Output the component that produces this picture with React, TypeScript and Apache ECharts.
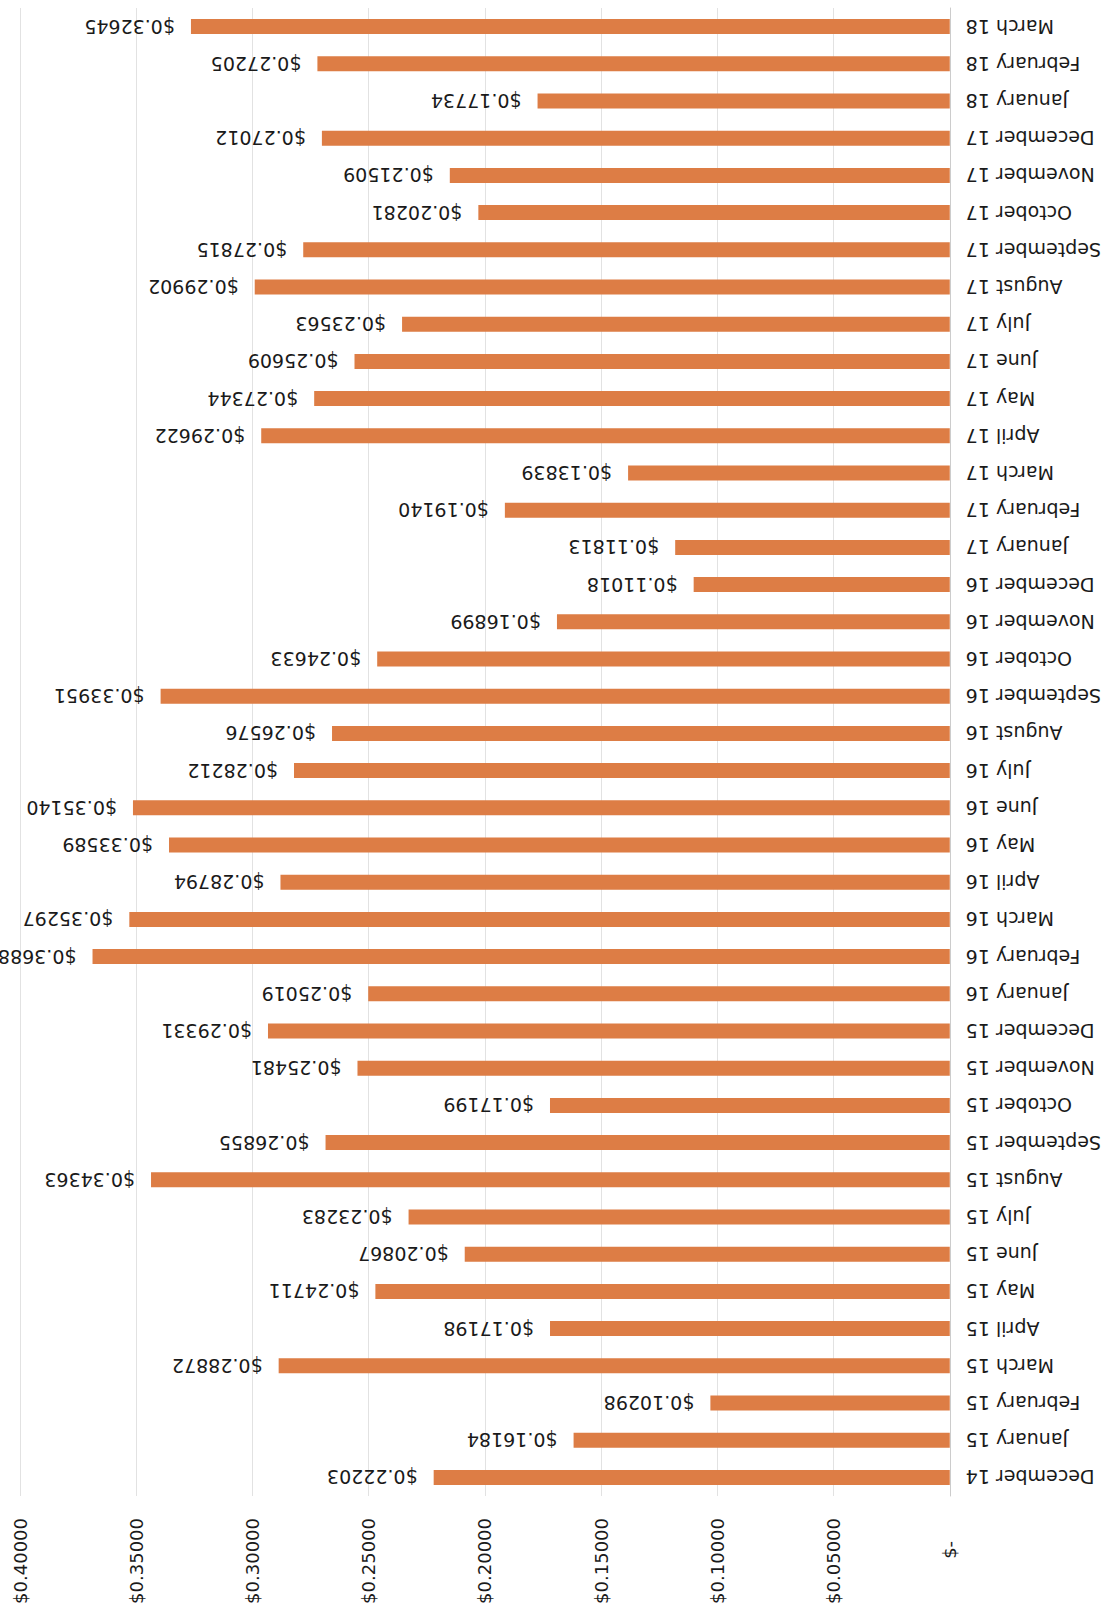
import React, { useEffect, useRef } from "react";
import * as echarts from "echarts";

// Monthly cost per unit, December 2014 through March 2018
const months: string[] = [
  "December 14",
  "January 15", "February 15", "March 15", "April 15", "May 15", "June 15",
  "July 15", "August 15", "September 15", "October 15", "November 15", "December 15",
  "January 16", "February 16", "March 16", "April 16", "May 16", "June 16",
  "July 16", "August 16", "September 16", "October 16", "November 16", "December 16",
  "January 17", "February 17", "March 17", "April 17", "May 17", "June 17",
  "July 17", "August 17", "September 17", "October 17", "November 17", "December 17",
  "January 18", "February 18", "March 18",
];

const costs: number[] = [
  0.22203,
  0.16184, 0.10298, 0.28872, 0.17198, 0.24711, 0.20867,
  0.23283, 0.34363, 0.26855, 0.17199, 0.25481, 0.29331,
  0.25019, 0.3688, 0.35297, 0.28794, 0.33589, 0.3514,
  0.28212, 0.26576, 0.33951, 0.24633, 0.16899, 0.11018,
  0.11813, 0.1914, 0.13839, 0.29622, 0.27344, 0.25609,
  0.23563, 0.29902, 0.27815, 0.20281, 0.21509, 0.27012,
  0.17734, 0.27205, 0.32645,
];

const axisMin = 0;
const axisMax = 0.4;
const axisStep = 0.05;

const FONT = "'DejaVu Sans', sans-serif";
const TEXT = "#1a1a1a";
const BAR = "#DD7D45";

const money = (v: number) => "$" + v.toFixed(5);

export default function App() {
  const ref = useRef<HTMLDivElement>(null);

  useEffect(() => {
    if (!ref.current) return;
    const chart = echarts.init(ref.current, undefined, { renderer: "svg" });
    chart.setOption({
      animation: false,
      backgroundColor: "#ffffff",
      grid: { left: 20, right: 154, top: 8, bottom: 118, containLabel: false },
      xAxis: {
        type: "value",
        min: axisMin,
        max: axisMax,
        interval: axisStep,
        inverse: true,
        position: "bottom",
        axisLine: { show: false },
        axisTick: { show: false },
        splitLine: { show: true, lineStyle: { color: "#e2e2e2", width: 1 } },
        axisLabel: {
          rotate: 90,
          margin: 22,
          color: TEXT,
          fontFamily: FONT,
          fontSize: 18,
          formatter: (v: number) => (v === 0 ? "$-\u2007\u2007" : money(v)),
        },
      },
      yAxis: {
        type: "category",
        data: months,
        position: "right",
        axisLine: { show: true, lineStyle: { color: "#cccccc", width: 1 } },
        axisTick: { show: false },
        axisLabel: {
          rotate: 180,
          margin: 16,
          color: TEXT,
          fontFamily: FONT,
          fontSize: 19,
          interval: 0,
        },
      },
      series: [
        {
          type: "bar",
          data: costs,
          barWidth: 15,
          itemStyle: { color: BAR },
          label: {
            show: true,
            position: "left",
            distance: 16,
            rotate: 180,
            align: "left",
            verticalAlign: "middle",
            color: TEXT,
            fontFamily: FONT,
            fontSize: 19,
            formatter: (p: any) => money(p.value),
          },
        },
      ],
    });
    return () => chart.dispose();
  }, []);

  return (
    <div
      ref={ref}
      style={{ position: "fixed", left: 0, top: 0, width: 1104, height: 1614, background: "#fff" }}
    />
  );
}
